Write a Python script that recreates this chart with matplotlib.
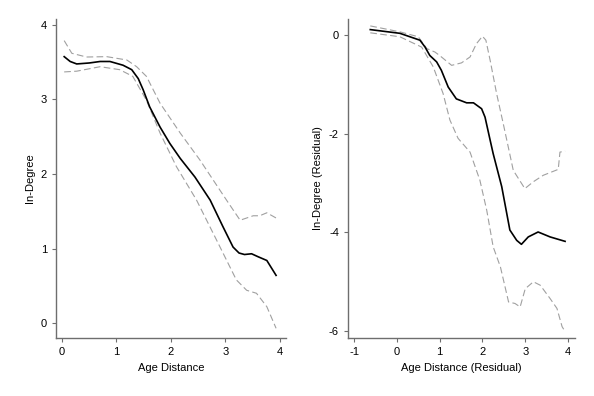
import matplotlib
matplotlib.use("Agg")
import matplotlib.pyplot as plt

plt.rcParams['font.family'] = ['Liberation Sans', 'DejaVu Sans']
plt.rcParams['axes.unicode_minus'] = False

# left panel: In-Degree vs Age Distance
left_x = [0.04, 0.15, 0.27, 0.5, 0.7, 0.88, 1.12, 1.28, 1.40, 1.49, 1.61, 1.80, 1.98, 2.17, 2.44,
          2.72, 2.95, 3.14, 3.25, 3.35, 3.48, 3.6, 3.76, 3.93]
left_y = [3.575, 3.51, 3.477, 3.49, 3.51, 3.51, 3.46, 3.40, 3.28, 3.13, 2.90, 2.63, 2.41, 2.21, 1.96,
          1.65, 1.30, 1.02, 0.94, 0.92, 0.93, 0.89, 0.84, 0.64]

left_hi_x = [0.04, 0.18, 0.45, 0.82, 1.19, 1.37, 1.55, 1.80, 2.17, 2.53, 3.02, 3.27, 3.51, 3.63, 3.76, 3.93]
left_hi_y = [3.79, 3.62, 3.57, 3.575, 3.53, 3.44, 3.31, 2.95, 2.55, 2.19, 1.65, 1.38, 1.44, 1.44, 1.48, 1.41]

left_lo_x = [0.04, 0.27, 0.7, 1.06, 1.3, 1.55, 1.8, 2.1, 2.47, 2.84, 3.2, 3.39, 3.57, 3.76, 3.93]
left_lo_y = [3.37, 3.38, 3.44, 3.40, 3.31, 2.99, 2.55, 2.10, 1.65, 1.11, 0.58, 0.44, 0.40, 0.22, -0.07]

# right panel: residualised
right_x = [-0.62, 0.07, 0.54, 0.66, 0.77, 0.93, 1.04, 1.2, 1.39, 1.63, 1.79, 1.98, 2.06, 2.18,
           2.25, 2.45, 2.64, 2.80, 2.91, 3.07, 3.30, 3.58, 3.93]
right_y = [0.115, 0.04, -0.10, -0.24, -0.41, -0.54, -0.71, -1.05, -1.29, -1.37, -1.37, -1.49, -1.66, -2.13,
           -2.40, -3.07, -3.95, -4.16, -4.24, -4.09, -3.99, -4.09, -4.18]

right_hi_x = [-0.62, 0.07, 0.5, 0.70, 0.89, 1.0, 1.28, 1.51, 1.71, 1.86, 2.0, 2.08, 2.18, 2.33, 2.5,
              2.72, 2.99, 3.19, 3.42, 3.77, 3.81, 3.93]
right_hi_y = [0.19, 0.07, -0.03, -0.27, -0.34, -0.41, -0.61, -0.56, -0.44, -0.17, -0.02, -0.10, -0.51, -1.18, -1.85,
              -2.74, -3.11, -2.97, -2.84, -2.72, -2.37, -2.35]

right_lo_x = [-0.62, 0.07, 0.58, 0.85, 1.08, 1.24, 1.43, 1.71, 1.94, 2.10, 2.25, 2.42,
              2.61, 2.76, 2.88, 3.0, 3.19, 3.35, 3.58, 3.74, 3.86, 3.93]
right_lo_y = [0.05, -0.03, -0.24, -0.64, -1.18, -1.72, -2.09, -2.37, -2.94, -3.55, -4.29, -4.70,
              -5.41, -5.44, -5.51, -5.14, -5.0, -5.07, -5.34, -5.54, -5.91, -6.01]

fig = plt.figure(figsize=(5.94, 3.96), dpi=100)
ax1 = fig.add_axes([0.0943, 0.1465, 0.387, 0.8055])
ax2 = fig.add_axes([0.5859, 0.1465, 0.382, 0.8055])

ci_style = dict(color='#a0a0a0', lw=0.8, dashes=(6, 3))

def style_axis(ax):
    for s in ['top', 'right']:
        ax.spines[s].set_visible(False)
    for s in ['left', 'bottom']:
        ax.spines[s].set_color('#6e6e6e')
        ax.spines[s].set_linewidth(1.0)
    ax.tick_params(colors='#6e6e6e', labelcolor='black', length=3, width=0.8, labelsize=8)

ax1.plot(left_hi_x, left_hi_y, **ci_style)
ax1.plot(left_lo_x, left_lo_y, **ci_style)
ax1.plot(left_x, left_y, color='black', lw=1.2)
ax1.set_xlim(-0.11, 4.11)
ax1.set_ylim(-0.2, 4.08)
ax1.set_xticks([0, 1, 2, 3, 4])
ax1.set_yticks([0, 1, 2, 3, 4])
ax1.set_xlabel('Age Distance', fontsize=8)
ax1.set_ylabel('In-Degree', fontsize=8)
style_axis(ax1)

ax2.plot(right_hi_x, right_hi_y, **ci_style)
ax2.plot(right_lo_x, right_lo_y, **ci_style)
ax2.plot(right_x, right_y, color='black', lw=1.2)
ax2.set_xlim(-1.14, 4.16)
ax2.set_ylim(-6.14, 0.33)
ax2.set_xticks([-1, 0, 1, 2, 3, 4])
ax2.set_yticks([-6, -4, -2, 0])
ax2.set_xlabel('Age Distance (Residual)', fontsize=8)
ax2.set_ylabel('In-Degree (Residual)', fontsize=8)
style_axis(ax2)

fig.savefig('out.png', dpi=100)
